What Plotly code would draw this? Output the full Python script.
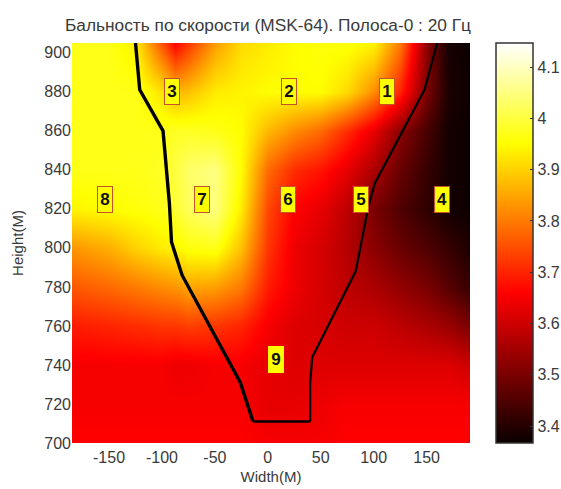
import plotly.graph_objects as go

TITLE = "Бальность по скорости (MSK-64). Полоса-0 : 20 Гц"
x_nodes = [-185, -150, -125, -100, -88, -75, -50, -25, 0, 25, 50, 75, 100, 125, 150, 170, 191]
y_nodes = [905, 880, 860, 840, 820, 800, 780, 760, 740, 720, 700]
z_905 = [3.97, 3.97, 3.93, 3.75, 3.66, 3.72, 3.84, 3.91, 3.93, 3.95, 3.96, 3.96, 3.94, 3.80, 3.52, 3.38, 3.37]
z_880 = [3.97, 3.97, 3.97, 3.92, 3.87, 3.88, 3.93, 3.94, 3.95, 3.95, 3.95, 3.91, 3.82, 3.70, 3.50, 3.39, 3.37]
z_860 = [3.97, 3.97, 3.97, 3.97, 3.98, 3.98, 3.97, 3.95, 3.87, 3.82, 3.78, 3.71, 3.63, 3.52, 3.44, 3.38, 3.37]
z_840 = [3.97, 3.97, 3.97, 3.98, 4.00, 4.03, 4.05, 3.95, 3.78, 3.71, 3.68, 3.63, 3.56, 3.48, 3.42, 3.38, 3.37]
z_820 = [3.94, 3.95, 3.96, 3.97, 3.99, 4.02, 4.05, 3.93, 3.74, 3.66, 3.63, 3.58, 3.50, 3.45, 3.41, 3.38, 3.37]
z_800 = [3.83, 3.86, 3.90, 3.93, 3.94, 3.96, 3.97, 3.88, 3.72, 3.64, 3.61, 3.57, 3.52, 3.48, 3.45, 3.42, 3.39]
z_780 = [3.76, 3.78, 3.80, 3.82, 3.83, 3.85, 3.84, 3.80, 3.69, 3.64, 3.61, 3.58, 3.56, 3.53, 3.50, 3.46, 3.42]
z_760 = [3.69, 3.70, 3.71, 3.72, 3.72, 3.73, 3.72, 3.70, 3.65, 3.62, 3.61, 3.60, 3.60, 3.58, 3.56, 3.54, 3.50]
z_740 = [3.65, 3.65, 3.65, 3.65, 3.64, 3.64, 3.65, 3.65, 3.63, 3.62, 3.62, 3.62, 3.62, 3.62, 3.62, 3.62, 3.60]
z_720 = [3.65, 3.65, 3.65, 3.65, 3.65, 3.65, 3.65, 3.65, 3.63, 3.63, 3.64, 3.65, 3.65, 3.65, 3.65, 3.65, 3.65]
z_700 = [3.66, 3.66, 3.66, 3.66, 3.66, 3.66, 3.66, 3.66, 3.65, 3.65, 3.65, 3.66, 3.66, 3.66, 3.66, 3.66, 3.66]
z_rows = [z_905, z_880, z_860, z_840, z_820, z_800, z_780, z_760, z_740, z_720, z_700]

left_x = [-125, -121, -99, -93, -91, -81, -26, -14]
left_y = [905, 881, 860, 823, 803, 786, 731, 711]
base_x = [-14, 40]
base_y = [711, 711]
right_x = [40, 40, 42, 83, 95, 101, 148, 160]
right_y = [711, 731, 744, 788, 821, 833, 881, 905]

label_text = ["1", "2", "3", "4", "5", "6", "7", "8", "9"]
label_x = [113, 20, -91, 165, 88, 19, -62, -154, 8]
label_y = [880, 880, 880, 825, 825, 825, 825, 825, 743]

x_ticks = [-150, -100, -50, 0, 50, 100, 150]
x_tick_text = ["-150", "-100", "-50", "0", "50", "100", "150"]
y_ticks = [700, 720, 740, 760, 780, 800, 820, 840, 860, 880, 900]
cbar_ticks = [3.4, 3.5, 3.6, 3.7, 3.8, 3.9, 4.0, 4.1]
cbar_text = ["3.4", "3.5", "3.6", "3.7", "3.8", "3.9", "4", "4.1"]
zmin, zmax = 3.367, 4.147

hot = [[0, "#0a0000"], [0.375, "#ff0000"], [0.75, "#ffff00"], [1, "#ffffff"]]
TXT = "#3a3a3a"
FONT = "Liberation Sans"

PLOT_W = 398
AREA_W = 479
CBAR_LEFT = 424 / AREA_W

fig = go.Figure()
fig.add_trace(go.Heatmap(
    x=x_nodes, y=y_nodes, z=z_rows, zmin=zmin, zmax=zmax, colorscale=hot, zsmooth="best",
    colorbar=dict(
        thickness=37, thicknessmode="pixels", len=1.0, lenmode="fraction", x=CBAR_LEFT, xanchor="left",
        y=0.5, yanchor="middle", ypad=0, xpad=0, outlinecolor="#333333", outlinewidth=1.5,
        tickmode="array", tickvals=cbar_ticks, ticktext=cbar_text, ticks="inside", ticklen=3,
        tickcolor="#333333", tickfont=dict(size=16, color=TXT, family=FONT),
    ),
))
for xs, ys, w in [(left_x, left_y, 3.4), (base_x, base_y, 2.6), (right_x, right_y, 2.2)]:
    fig.add_trace(go.Scatter(x=xs, y=ys, mode="lines", line=dict(color="#000000", width=w), showlegend=False, hoverinfo="skip"))
# Invisible trace so the left-hand colorbar tick axis is drawn
fig.add_trace(go.Scatter(x=[0] * len(cbar_ticks), y=cbar_ticks, yaxis="y2", mode="markers", opacity=0,
                         showlegend=False, hoverinfo="skip"))

for t, lx, ly in zip(label_text, label_x, label_y):
    fig.add_annotation(
        x=lx, y=ly, text="<b>" + t + "</b>", showarrow=False, width=14, height=25,
        font=dict(size=17, color="#111111", family=FONT),
        bgcolor="#ffff00", bordercolor="#c8502a" if t != "9" else "#ffff00", borderwidth=1, borderpad=0,
    )

fig.update_layout(
    width=561, height=489, autosize=False,
    margin=dict(l=72, r=561 - 72 - AREA_W, t=43, b=46, autoexpand=False),
    paper_bgcolor="#ffffff", plot_bgcolor="#ffffff",
    font=dict(family=FONT, color=TXT),
    title=dict(text=TITLE, x=268 / 561, xanchor="center", y=1 - 25 / 489, yanchor="middle", font=dict(size=17.3, color=TXT, family=FONT)),
    xaxis=dict(domain=[0, PLOT_W / AREA_W], range=[-185, 191], tickmode="array", tickvals=x_ticks, ticktext=x_tick_text,
               ticks="", showgrid=False, zeroline=False, ticklabelstandoff=3,
               title=dict(text="Width(M)", font=dict(size=15, color=TXT), standoff=6), tickfont=dict(size=16, color=TXT)),
    yaxis=dict(range=[700, 905], tickmode="array", tickvals=y_ticks, ticks="", showgrid=False, zeroline=False,
               title=dict(text="Height(M)", font=dict(size=15, color=TXT), standoff=17), tickfont=dict(size=16, color=TXT)),
    yaxis2=dict(overlaying="y", anchor="free", position=CBAR_LEFT, side="right", range=[zmin, zmax],
                tickmode="array", tickvals=cbar_ticks, ticks="outside", ticklen=3, tickcolor="#333333",
                showticklabels=False, showgrid=False, zeroline=False, showline=False),
    showlegend=False,
)
fig.write_html("out.html", config={"displayModeBar": False}, post_script="document.body.style.margin='0';")
